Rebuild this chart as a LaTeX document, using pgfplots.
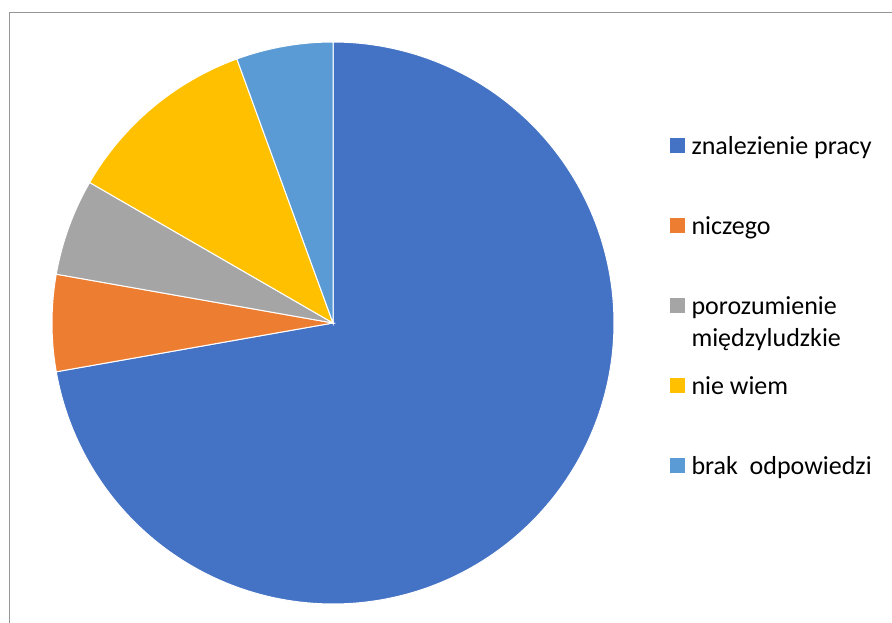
\documentclass[border=0pt]{standalone}
\usepackage{pgfplots}
\pgfplotsset{compat=1.18}
\usepackage{fontspec}
\setmainfont{Carlito}
\definecolor{cA}{HTML}{4472C4}
\definecolor{cB}{HTML}{ED7D31}
\definecolor{cC}{HTML}{A5A5A5}
\definecolor{cD}{HTML}{FFC000}
\definecolor{cE}{HTML}{5B9BD5}
\definecolor{frame}{RGB}{150,150,150}
\begin{document}
\begin{tikzpicture}
% counts: 13, 1, 1, 2, 1 (total 18) -> degrees per unit = 360/18
\pgfmathsetmacro\tA{0}
\pgfmathsetmacro\tB{\tA+13*360/18}
\pgfmathsetmacro\tC{\tB+1*360/18}
\pgfmathsetmacro\tD{\tC+1*360/18}
\pgfmathsetmacro\tE{\tD+2*360/18}
\pgfmathsetmacro\tF{\tE+1*360/18}
\path[use as bounding box] (0,0) rectangle (892pt,623pt);
\begin{axis}[
  at={(0,0)}, anchor=south west,
  scale only axis, width=892pt, height=623pt,
  xmin=0, xmax=892, ymin=0, ymax=623,
  hide axis,
  legend style={at={(axis cs:670,491.1)}, anchor=north west, draw=none, fill=none,
    inner sep=0pt, outer sep=0pt, row sep=47pt, column sep=7pt,
    font=\fontsize{26}{33}\selectfont,
    cells={anchor=base west},
    nodes={inner sep=0pt, outer sep=0pt, text depth=9.9pt, text height=23.1pt}},
  legend image code/.code={\fill[#1,draw=none] (0pt,2pt) rectangle (14.5pt,16.5pt);},
]
\addplot[forget plot, draw=frame, line width=1pt] coordinates {(9.5,-5) (9.5,610.5) (900,610.5)};
\addplot[fill=cA, draw=white, line width=1pt, domain=\tA:\tB, samples=200] ({333+281*sin(x)},{300+281*cos(x)}) -- (axis cs:333,300) -- cycle;
\addlegendentry{znalezienie pracy}
\addplot[fill=cB, draw=white, line width=1pt, domain=\tB:\tC, samples=30] ({333+281*sin(x)},{300+281*cos(x)}) -- (axis cs:333,300) -- cycle;
\addlegendentry{niczego}
\addplot[fill=cC, draw=white, line width=1pt, domain=\tC:\tD, samples=30] ({333+281*sin(x)},{300+281*cos(x)}) -- (axis cs:333,300) -- cycle;
\addlegendentry{\rlap{\raisebox{-32pt}{międzyludzkie}}porozumienie}
\addplot[fill=cD, draw=white, line width=1pt, domain=\tD:\tE, samples=50] ({333+281*sin(x)},{300+281*cos(x)}) -- (axis cs:333,300) -- cycle;
\addlegendentry{nie wiem}
\addplot[fill=cE, draw=white, line width=1pt, domain=\tE:\tF, samples=30] ({333+281*sin(x)},{300+281*cos(x)}) -- (axis cs:333,300) -- cycle;
\addlegendentry{brak\ \ odpowiedzi}
\end{axis}
\end{tikzpicture}
\end{document}
